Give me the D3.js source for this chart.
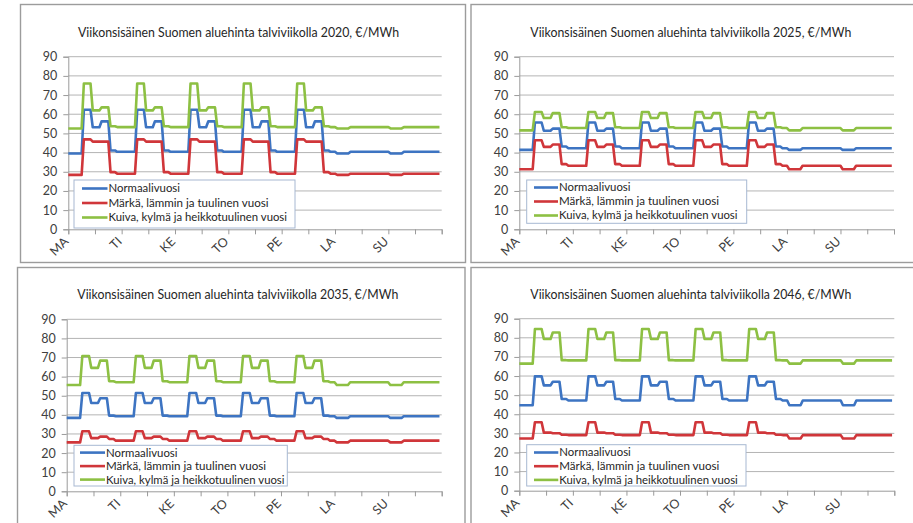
<!DOCTYPE html>
<html><head><meta charset="utf-8">
<script src="https://cdn.jsdelivr.net/npm/d3@7"></script>
<style>
body{margin:0;background:#fff;}
svg{display:block;font-family:Lato,"Open Sans",sans-serif;}
</style>
</head><body>
<svg id="c" width="913" height="523"></svg>
<script>
// ---------- data ----------
const dayLabels = ["MA","TI","KE","TO","PE","LA","SU"];
const yTicks = [0,10,20,30,40,50,60,70,80,90];
const seriesNames = ["Normaalivuosi","Märkä, lämmin ja tuulinen vuosi","Kuiva, kylmä ja heikkotuulinen vuosi"];
const years = ["2020","2025","2035","2046"];

// hourly values Mon 00h ... Sun 23h (168 hours), one line per day
const normal2020 = [
39.5,39.5,39.5,39.5,39.5,39.5,39.5, 62.3,62.3,62.3,62.3, 53.2,53.2,53.2,53.2, 56.3,56.3,56.3,56.3, 41.1,41.1,41.1, 40.4,40.4,
40.4,40.4,40.4,40.4,40.4,40.4,40.4, 62.3,62.3,62.3,62.3, 53.2,53.2,53.2,53.2, 56.3,56.3,56.3,56.3, 41.1,41.1,41.1, 40.4,40.4,
40.4,40.4,40.4,40.4,40.4,40.4,40.4, 62.3,62.3,62.3,62.3, 53.2,53.2,53.2,53.2, 56.3,56.3,56.3,56.3, 41.1,41.1,41.1, 40.4,40.4,
40.4,40.4,40.4,40.4,40.4,40.4,40.4, 62.3,62.3,62.3,62.3, 53.2,53.2,53.2,53.2, 56.3,56.3,56.3,56.3, 41.1,41.1,41.1, 40.4,40.4,
40.4,40.4,40.4,40.4,40.4,40.4,40.4, 62.3,62.3,62.3,62.3, 53.2,53.2,53.2,53.2, 56.3,56.3,56.3,56.3, 41.1,41.1,41.1, 40.4,40.4,
40.4, 39.5,39.5,39.5,39.5,39.5,39.5, 40.4,40.4,40.4,40.4,40.4, 40.4,40.4,40.4,40.4,40.4, 40.4,40.4,40.4,40.4,40.4, 40.4,40.4,
40.4, 39.5,39.5,39.5,39.5,39.5,39.5, 40.4,40.4,40.4,40.4,40.4, 40.4,40.4,40.4,40.4,40.4, 40.4,40.4,40.4,40.4,40.4, 40.4,40.4];
const wet2020 = [
28.4,28.4,28.4,28.4,28.4,28.4,28.4, 46.9,46.9,46.9,46.9, 45.7,45.7,45.7,45.7, 45.7,45.7,45.7,45.7, 29.8,29.8,29.8, 29.0,29.0,
29.0,29.0,29.0,29.0,29.0,29.0,29.0, 46.9,46.9,46.9,46.9, 45.7,45.7,45.7,45.7, 45.7,45.7,45.7,45.7, 29.8,29.8,29.8, 29.0,29.0,
29.0,29.0,29.0,29.0,29.0,29.0,29.0, 46.9,46.9,46.9,46.9, 45.7,45.7,45.7,45.7, 45.7,45.7,45.7,45.7, 29.8,29.8,29.8, 29.0,29.0,
29.0,29.0,29.0,29.0,29.0,29.0,29.0, 46.9,46.9,46.9,46.9, 45.7,45.7,45.7,45.7, 45.7,45.7,45.7,45.7, 29.8,29.8,29.8, 29.0,29.0,
29.0,29.0,29.0,29.0,29.0,29.0,29.0, 46.9,46.9,46.9,46.9, 45.7,45.7,45.7,45.7, 45.7,45.7,45.7,45.7, 29.8,29.8,29.8, 29.0,29.0,
29.0, 28.4,28.4,28.4,28.4,28.4,28.4, 29.0,29.0,29.0,29.0,29.0, 29.0,29.0,29.0,29.0,29.0, 29.0,29.0,29.0,29.0,29.0, 29.0,29.0,
29.0, 28.4,28.4,28.4,28.4,28.4,28.4, 29.0,29.0,29.0,29.0,29.0, 29.0,29.0,29.0,29.0,29.0, 29.0,29.0,29.0,29.0,29.0, 29.0,29.0];
const dry2020 = [
52.6,52.6,52.6,52.6,52.6,52.6,52.6, 76.0,76.0,76.0,76.0, 62.0,62.0,62.0,62.0, 63.6,63.6,63.6,63.6, 53.7,53.7,53.7, 53.3,53.3,
53.3,53.3,53.3,53.3,53.3,53.3,53.3, 76.0,76.0,76.0,76.0, 62.0,62.0,62.0,62.0, 63.6,63.6,63.6,63.6, 53.7,53.7,53.7, 53.3,53.3,
53.3,53.3,53.3,53.3,53.3,53.3,53.3, 76.0,76.0,76.0,76.0, 62.0,62.0,62.0,62.0, 63.6,63.6,63.6,63.6, 53.7,53.7,53.7, 53.3,53.3,
53.3,53.3,53.3,53.3,53.3,53.3,53.3, 76.0,76.0,76.0,76.0, 62.0,62.0,62.0,62.0, 63.6,63.6,63.6,63.6, 53.7,53.7,53.7, 53.3,53.3,
53.3,53.3,53.3,53.3,53.3,53.3,53.3, 76.0,76.0,76.0,76.0, 62.0,62.0,62.0,62.0, 63.6,63.6,63.6,63.6, 53.7,53.7,53.7, 53.3,53.3,
53.3, 52.6,52.6,52.6,52.6,52.6,52.6, 53.3,53.3,53.3,53.3,53.3, 53.3,53.3,53.3,53.3,53.3, 53.3,53.3,53.3,53.3,53.3, 53.3,53.3,
53.3, 52.6,52.6,52.6,52.6,52.6,52.6, 53.3,53.3,53.3,53.3,53.3, 53.3,53.3,53.3,53.3,53.3, 53.3,53.3,53.3,53.3,53.3, 53.3,53.3];

const normal2025 = [
41.4,41.4,41.4,41.4,41.4,41.4,41.4, 55.7,55.7,55.7,55.7, 51.4,51.4,51.4,51.4, 52.5,52.5,52.5,52.5, 43.2,43.2,43.2, 42.3,42.3,
42.3,42.3,42.3,42.3,42.3,42.3,42.3, 55.7,55.7,55.7,55.7, 51.4,51.4,51.4,51.4, 52.5,52.5,52.5,52.5, 43.2,43.2,43.2, 42.3,42.3,
42.3,42.3,42.3,42.3,42.3,42.3,42.3, 55.7,55.7,55.7,55.7, 51.4,51.4,51.4,51.4, 52.5,52.5,52.5,52.5, 43.2,43.2,43.2, 42.3,42.3,
42.3,42.3,42.3,42.3,42.3,42.3,42.3, 55.7,55.7,55.7,55.7, 51.4,51.4,51.4,51.4, 52.5,52.5,52.5,52.5, 43.2,43.2,43.2, 42.3,42.3,
42.3,42.3,42.3,42.3,42.3,42.3,42.3, 55.7,55.7,55.7,55.7, 51.4,51.4,51.4,51.4, 52.5,52.5,52.5,52.5, 43.2,43.2,43.2, 42.3,42.3,
42.3, 41.4,41.4,41.4,41.4,41.4,41.4, 42.3,42.3,42.3,42.3,42.3, 42.3,42.3,42.3,42.3,42.3, 42.3,42.3,42.3,42.3,42.3, 42.3,42.3,
42.3, 41.4,41.4,41.4,41.4,41.4,41.4, 42.3,42.3,42.3,42.3,42.3, 42.3,42.3,42.3,42.3,42.3, 42.3,42.3,42.3,42.3,42.3, 42.3,42.3];
const wet2025 = [
31.3,31.3,31.3,31.3,31.3,31.3,31.3, 46.4,46.4,46.4,46.4, 43.0,43.0,43.0,43.0, 44.2,44.2,44.2,44.2, 34.0,34.0,34.0, 33.1,33.1,
33.1,33.1,33.1,33.1,33.1,33.1,33.1, 46.4,46.4,46.4,46.4, 43.0,43.0,43.0,43.0, 44.2,44.2,44.2,44.2, 34.0,34.0,34.0, 33.1,33.1,
33.1,33.1,33.1,33.1,33.1,33.1,33.1, 46.4,46.4,46.4,46.4, 43.0,43.0,43.0,43.0, 44.2,44.2,44.2,44.2, 34.0,34.0,34.0, 33.1,33.1,
33.1,33.1,33.1,33.1,33.1,33.1,33.1, 46.4,46.4,46.4,46.4, 43.0,43.0,43.0,43.0, 44.2,44.2,44.2,44.2, 34.0,34.0,34.0, 33.1,33.1,
33.1,33.1,33.1,33.1,33.1,33.1,33.1, 46.4,46.4,46.4,46.4, 43.0,43.0,43.0,43.0, 44.2,44.2,44.2,44.2, 34.0,34.0,34.0, 33.1,33.1,
33.1, 31.3,31.3,31.3,31.3,31.3,31.3, 33.1,33.1,33.1,33.1,33.1, 33.1,33.1,33.1,33.1,33.1, 33.1,33.1,33.1,33.1,33.1, 33.1,33.1,
33.1, 31.3,31.3,31.3,31.3,31.3,31.3, 33.1,33.1,33.1,33.1,33.1, 33.1,33.1,33.1,33.1,33.1, 33.1,33.1,33.1,33.1,33.1, 33.1,33.1];
const dry2025 = [
51.6,51.6,51.6,51.6,51.6,51.6,51.6, 61.2,61.2,61.2,61.2, 58.0,58.0,58.0,58.0, 60.6,60.6,60.6,60.6, 53.2,53.2,53.2, 52.8,52.8,
52.8,52.8,52.8,52.8,52.8,52.8,52.8, 61.2,61.2,61.2,61.2, 58.0,58.0,58.0,58.0, 60.6,60.6,60.6,60.6, 53.2,53.2,53.2, 52.8,52.8,
52.8,52.8,52.8,52.8,52.8,52.8,52.8, 61.2,61.2,61.2,61.2, 58.0,58.0,58.0,58.0, 60.6,60.6,60.6,60.6, 53.2,53.2,53.2, 52.8,52.8,
52.8,52.8,52.8,52.8,52.8,52.8,52.8, 61.2,61.2,61.2,61.2, 58.0,58.0,58.0,58.0, 60.6,60.6,60.6,60.6, 53.2,53.2,53.2, 52.8,52.8,
52.8,52.8,52.8,52.8,52.8,52.8,52.8, 61.2,61.2,61.2,61.2, 58.0,58.0,58.0,58.0, 60.6,60.6,60.6,60.6, 53.2,53.2,53.2, 52.8,52.8,
52.8, 51.6,51.6,51.6,51.6,51.6,51.6, 52.8,52.8,52.8,52.8,52.8, 52.8,52.8,52.8,52.8,52.8, 52.8,52.8,52.8,52.8,52.8, 52.8,52.8,
52.8, 51.6,51.6,51.6,51.6,51.6,51.6, 52.8,52.8,52.8,52.8,52.8, 52.8,52.8,52.8,52.8,52.8, 52.8,52.8,52.8,52.8,52.8, 52.8,52.8];

const normal2035 = [
38.4,38.4,38.4,38.4,38.4,38.4,38.4, 51.4,51.4,51.4,51.4, 46.2,46.2,46.2,46.2, 48.7,48.7,48.7,48.7, 39.6,39.6,39.6, 39.3,39.3,
39.3,39.3,39.3,39.3,39.3,39.3,39.3, 51.4,51.4,51.4,51.4, 46.2,46.2,46.2,46.2, 48.7,48.7,48.7,48.7, 39.6,39.6,39.6, 39.3,39.3,
39.3,39.3,39.3,39.3,39.3,39.3,39.3, 51.4,51.4,51.4,51.4, 46.2,46.2,46.2,46.2, 48.7,48.7,48.7,48.7, 39.6,39.6,39.6, 39.3,39.3,
39.3,39.3,39.3,39.3,39.3,39.3,39.3, 51.4,51.4,51.4,51.4, 46.2,46.2,46.2,46.2, 48.7,48.7,48.7,48.7, 39.6,39.6,39.6, 39.3,39.3,
39.3,39.3,39.3,39.3,39.3,39.3,39.3, 51.4,51.4,51.4,51.4, 46.2,46.2,46.2,46.2, 48.7,48.7,48.7,48.7, 39.6,39.6,39.6, 39.3,39.3,
39.3, 38.4,38.4,38.4,38.4,38.4,38.4, 39.3,39.3,39.3,39.3,39.3, 39.3,39.3,39.3,39.3,39.3, 39.3,39.3,39.3,39.3,39.3, 39.3,39.3,
39.3, 38.4,38.4,38.4,38.4,38.4,38.4, 39.3,39.3,39.3,39.3,39.3, 39.3,39.3,39.3,39.3,39.3, 39.3,39.3,39.3,39.3,39.3, 39.3,39.3];
const wet2035 = [
25.6,25.6,25.6,25.6,25.6,25.6,25.6, 31.4,31.4,31.4,31.4, 27.8,27.8,27.8,27.8, 28.6,28.6,28.6,28.6, 27.4,27.4,27.4, 26.5,26.5,
26.5,26.5,26.5,26.5,26.5,26.5,26.5, 31.4,31.4,31.4,31.4, 27.8,27.8,27.8,27.8, 28.6,28.6,28.6,28.6, 27.4,27.4,27.4, 26.5,26.5,
26.5,26.5,26.5,26.5,26.5,26.5,26.5, 31.4,31.4,31.4,31.4, 27.8,27.8,27.8,27.8, 28.6,28.6,28.6,28.6, 27.4,27.4,27.4, 26.5,26.5,
26.5,26.5,26.5,26.5,26.5,26.5,26.5, 31.4,31.4,31.4,31.4, 27.8,27.8,27.8,27.8, 28.6,28.6,28.6,28.6, 27.4,27.4,27.4, 26.5,26.5,
26.5,26.5,26.5,26.5,26.5,26.5,26.5, 31.4,31.4,31.4,31.4, 27.8,27.8,27.8,27.8, 28.6,28.6,28.6,28.6, 27.4,27.4,27.4, 26.5,26.5,
26.5, 25.6,25.6,25.6,25.6,25.6,25.6, 26.5,26.5,26.5,26.5,26.5, 26.5,26.5,26.5,26.5,26.5, 26.5,26.5,26.5,26.5,26.5, 26.5,26.5,
26.5, 25.6,25.6,25.6,25.6,25.6,25.6, 26.5,26.5,26.5,26.5,26.5, 26.5,26.5,26.5,26.5,26.5, 26.5,26.5,26.5,26.5,26.5, 26.5,26.5];
const dry2035 = [
55.6,55.6,55.6,55.6,55.6,55.6,55.6, 70.8,70.8,70.8,70.8, 64.6,64.6,64.6,64.6, 68.4,68.4,68.4,68.4, 57.6,57.6,57.6, 57.1,57.1,
57.1,57.1,57.1,57.1,57.1,57.1,57.1, 70.8,70.8,70.8,70.8, 64.6,64.6,64.6,64.6, 68.4,68.4,68.4,68.4, 57.6,57.6,57.6, 57.1,57.1,
57.1,57.1,57.1,57.1,57.1,57.1,57.1, 70.8,70.8,70.8,70.8, 64.6,64.6,64.6,64.6, 68.4,68.4,68.4,68.4, 57.6,57.6,57.6, 57.1,57.1,
57.1,57.1,57.1,57.1,57.1,57.1,57.1, 70.8,70.8,70.8,70.8, 64.6,64.6,64.6,64.6, 68.4,68.4,68.4,68.4, 57.6,57.6,57.6, 57.1,57.1,
57.1,57.1,57.1,57.1,57.1,57.1,57.1, 70.8,70.8,70.8,70.8, 64.6,64.6,64.6,64.6, 68.4,68.4,68.4,68.4, 57.6,57.6,57.6, 57.1,57.1,
57.1, 55.6,55.6,55.6,55.6,55.6,55.6, 57.1,57.1,57.1,57.1,57.1, 57.1,57.1,57.1,57.1,57.1, 57.1,57.1,57.1,57.1,57.1, 57.1,57.1,
57.1, 55.6,55.6,55.6,55.6,55.6,55.6, 57.1,57.1,57.1,57.1,57.1, 57.1,57.1,57.1,57.1,57.1, 57.1,57.1,57.1,57.1,57.1, 57.1,57.1];

const normal2046 = [
44.7,44.7,44.7,44.7,44.7,44.7,44.7, 59.8,59.8,59.8,59.8, 55.1,55.1,55.1,55.1, 57.0,57.0,57.0,57.0, 48.0,48.0,48.0, 47.2,47.2,
47.2,47.2,47.2,47.2,47.2,47.2,47.2, 59.8,59.8,59.8,59.8, 55.1,55.1,55.1,55.1, 57.0,57.0,57.0,57.0, 48.0,48.0,48.0, 47.2,47.2,
47.2,47.2,47.2,47.2,47.2,47.2,47.2, 59.8,59.8,59.8,59.8, 55.1,55.1,55.1,55.1, 57.0,57.0,57.0,57.0, 48.0,48.0,48.0, 47.2,47.2,
47.2,47.2,47.2,47.2,47.2,47.2,47.2, 59.8,59.8,59.8,59.8, 55.1,55.1,55.1,55.1, 57.0,57.0,57.0,57.0, 48.0,48.0,48.0, 47.2,47.2,
47.2,47.2,47.2,47.2,47.2,47.2,47.2, 59.8,59.8,59.8,59.8, 55.1,55.1,55.1,55.1, 57.0,57.0,57.0,57.0, 48.0,48.0,48.0, 47.2,47.2,
47.2, 44.7,44.7,44.7,44.7,44.7,44.7, 47.2,47.2,47.2,47.2,47.2, 47.2,47.2,47.2,47.2,47.2, 47.2,47.2,47.2,47.2,47.2, 47.2,47.2,
47.2, 44.7,44.7,44.7,44.7,44.7,44.7, 47.2,47.2,47.2,47.2,47.2, 47.2,47.2,47.2,47.2,47.2, 47.2,47.2,47.2,47.2,47.2, 47.2,47.2];
const wet2046 = [
27.3,27.3,27.3,27.3,27.3,27.3,27.3, 35.8,35.8,35.8,35.8, 30.4,30.4,30.4,30.4, 30.1,30.1,30.1,30.1, 29.3,29.3,29.3, 29.1,29.1,
29.1,29.1,29.1,29.1,29.1,29.1,29.1, 35.8,35.8,35.8,35.8, 30.4,30.4,30.4,30.4, 30.1,30.1,30.1,30.1, 29.3,29.3,29.3, 29.1,29.1,
29.1,29.1,29.1,29.1,29.1,29.1,29.1, 35.8,35.8,35.8,35.8, 30.4,30.4,30.4,30.4, 30.1,30.1,30.1,30.1, 29.3,29.3,29.3, 29.1,29.1,
29.1,29.1,29.1,29.1,29.1,29.1,29.1, 35.8,35.8,35.8,35.8, 30.4,30.4,30.4,30.4, 30.1,30.1,30.1,30.1, 29.3,29.3,29.3, 29.1,29.1,
29.1,29.1,29.1,29.1,29.1,29.1,29.1, 35.8,35.8,35.8,35.8, 30.4,30.4,30.4,30.4, 30.1,30.1,30.1,30.1, 29.3,29.3,29.3, 29.1,29.1,
29.1, 27.3,27.3,27.3,27.3,27.3,27.3, 29.1,29.1,29.1,29.1,29.1, 29.1,29.1,29.1,29.1,29.1, 29.1,29.1,29.1,29.1,29.1, 29.1,29.1,
29.1, 27.3,27.3,27.3,27.3,27.3,27.3, 29.1,29.1,29.1,29.1,29.1, 29.1,29.1,29.1,29.1,29.1, 29.1,29.1,29.1,29.1,29.1, 29.1,29.1];
const dry2046 = [
66.5,66.5,66.5,66.5,66.5,66.5,66.5, 84.6,84.6,84.6,84.6, 79.4,79.4,79.4,79.4, 82.8,82.8,82.8,82.8, 68.3,68.3,68.3, 68.2,68.2,
68.2,68.2,68.2,68.2,68.2,68.2,68.2, 84.6,84.6,84.6,84.6, 79.4,79.4,79.4,79.4, 82.8,82.8,82.8,82.8, 68.3,68.3,68.3, 68.2,68.2,
68.2,68.2,68.2,68.2,68.2,68.2,68.2, 84.6,84.6,84.6,84.6, 79.4,79.4,79.4,79.4, 82.8,82.8,82.8,82.8, 68.3,68.3,68.3, 68.2,68.2,
68.2,68.2,68.2,68.2,68.2,68.2,68.2, 84.6,84.6,84.6,84.6, 79.4,79.4,79.4,79.4, 82.8,82.8,82.8,82.8, 68.3,68.3,68.3, 68.2,68.2,
68.2,68.2,68.2,68.2,68.2,68.2,68.2, 84.6,84.6,84.6,84.6, 79.4,79.4,79.4,79.4, 82.8,82.8,82.8,82.8, 68.3,68.3,68.3, 68.2,68.2,
68.2, 66.5,66.5,66.5,66.5,66.5,66.5, 68.2,68.2,68.2,68.2,68.2, 68.2,68.2,68.2,68.2,68.2, 68.2,68.2,68.2,68.2,68.2, 68.2,68.2,
68.2, 66.5,66.5,66.5,66.5,66.5,66.5, 68.2,68.2,68.2,68.2,68.2, 68.2,68.2,68.2,68.2,68.2, 68.2,68.2,68.2,68.2,68.2, 68.2,68.2];

// ---------- layout ----------
const colors = ["#3d74c2", "#d0363a", "#8dc043"];
const panels = [
  {year: years[0], series: [normal2020, wet2020, dry2020],
   frame: [20.5, 4.5, 465.5, 262.5], plot: [68.3, 441.7, 56.7, 229.3], title: [238.5, 37.3],
   legend: {x: 74, y: 180, w: 221, h: 48, sx: 82, tx: 108.5, rows: [188.5, 203, 217.5]}},
  {year: years[1], series: [normal2025, wet2025, dry2025],
   frame: [471, 4.5, 930, 262.5], plot: [519.3, 894, 56.7, 229.3], title: [690.8, 37.3],
   legend: {x: 526.7, y: 180, w: 220, h: 43.3, sx: 534, tx: 559, rows: [187.5, 201.5, 215.5]}},
  {year: years[2], series: [normal2035, wet2035, dry2035],
   frame: [17.5, 267.5, 465, 540], plot: [66.7, 441.7, 319.3, 491.3], title: [237.8, 299.3],
   legend: {x: 74, y: 445.3, w: 213.3, h: 40.7, sx: 80, tx: 106, rows: [452.6, 466.1, 479.6]}},
  {year: years[3], series: [normal2046, wet2046, dry2046],
   frame: [471, 267.5, 930, 540], plot: [519.3, 894.3, 318.7, 490.7], title: [690.8, 299.3],
   legend: {x: 526.7, y: 444.7, w: 219.3, h: 41.3, sx: 534, tx: 559.3, rows: [452.5, 466.2, 479.9]}}
];
const legendTextW = [71.5, 160, 178.5];

const svg = d3.select("#c");
svg.append("rect").attr("width", 913).attr("height", 523).attr("fill", "#fff");

panels.forEach(p => {
  p.series.forEach(s => { if (s.length !== 168) throw new Error("bad length " + p.year + " " + s.length); });
  const g = svg.append("g");
  const [fx0, fy0, fx1, fy1] = p.frame;
  g.append("rect").attr("x", fx0).attr("y", fy0).attr("width", fx1 - fx0).attr("height", fy1 - fy0)
    .attr("fill", "#fff").attr("stroke", "#9c9c9c").attr("stroke-width", 1.4);

  const [px0, px1, py1, py0] = p.plot;
  const x = d3.scaleLinear().domain([0, 168]).range([px0, px1]);
  const y = d3.scaleLinear().domain([0, 90]).range([py0, py1]);

  // gridlines
  g.append("g").selectAll("line").data(yTicks.filter(t => t > 0)).join("line")
    .attr("x1", px0).attr("x2", px1).attr("y1", d => y(d)).attr("y2", d => y(d))
    .attr("stroke", "#b4b4b4").attr("stroke-width", 1);

  // y axis
  const ya = g.append("g").attr("transform", `translate(${px0},0)`)
    .call(d3.axisLeft(y).tickValues(yTicks).tickSize(5).tickPadding(6));
  ya.select(".domain").attr("stroke", "#9a9a9a");
  ya.selectAll(".tick line").attr("stroke", "#9a9a9a");
  ya.selectAll("text").attr("fill", "#404040").style("font-size", "12.5px").style("font-family", "Lato, sans-serif");

  // x axis
  const xt = d3.range(0, 169, 12);
  const xa = g.append("g").attr("transform", `translate(0,${py0})`)
    .call(d3.axisBottom(x).tickValues(xt).tickSize(5).tickFormat(""));
  xa.select(".domain").attr("stroke", "#9a9a9a");
  xa.selectAll(".tick line").attr("stroke", "#9a9a9a");
  const lab = g.append("g").selectAll("g").data(dayLabels).join("g")
    .attr("transform", (d, i) => `translate(${x(i * 24) + 1},${py0 + 13})`);
  lab.append("text").attr("transform", "rotate(-45)")
    .attr("text-anchor", "end").attr("fill", "#404040")
    .style("font-size", "12.5px").text(d => d);

  // lines
  const line = d3.line().x((d, i) => x(i)).y(d => y(d));
  p.series.forEach((s, k) => {
    g.append("path").datum(s).attr("d", line).attr("fill", "none")
      .attr("stroke", colors[k]).attr("stroke-width", 2.6).attr("stroke-linejoin", "round");
  });

  // title
  g.append("text").attr("x", p.title[0]).attr("y", p.title[1]).attr("text-anchor", "middle")
    .attr("fill", "#262626").style("font-size", "13px")
    .attr("textLength", 321).attr("lengthAdjust", "spacingAndGlyphs")
    .text(`Viikonsisäinen Suomen aluehinta talviviikolla ${p.year}, €/MWh`);

  // legend
  const L = p.legend;
  g.append("rect").attr("x", L.x).attr("y", L.y).attr("width", L.w).attr("height", L.h)
    .attr("fill", "#fff").attr("stroke", "#a7b8d2").attr("stroke-width", 1);
  seriesNames.forEach((n, k) => {
    g.append("line").attr("x1", L.sx).attr("x2", L.tx - 1).attr("y1", L.rows[k]).attr("y2", L.rows[k])
      .attr("stroke", colors[k]).attr("stroke-width", 2.6);
    g.append("text").attr("x", L.tx).attr("y", L.rows[k]).attr("dy", "0.35em")
      .attr("fill", "#262626").style("font-size", "11.2px")
      .attr("textLength", legendTextW[k]).attr("lengthAdjust", "spacingAndGlyphs")
      .text(n);
  });
});
</script>
</body></html>
